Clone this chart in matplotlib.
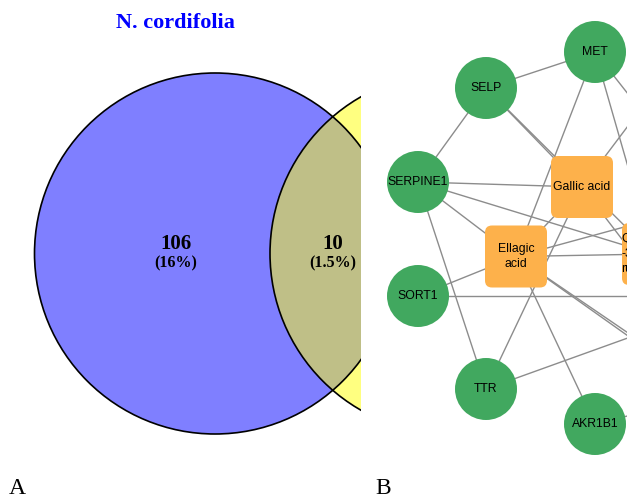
"""Venn diagram (A) and compound-target network (B)."""
import matplotlib
matplotlib.use('Agg')
import matplotlib.pyplot as plt
from matplotlib.patches import Circle, FancyBboxPatch

# ---- data -------------------------------------------------------------
venn_title = 'N. cordifolia'
venn_counts = [106, 10]
venn_pcts = ['16%', '1.5%']

targets = ['MET', 'SELP', 'SERPINE1', 'SORT1', 'TTR', 'AKR1B1']
compounds = ['Gallic acid', 'Ellagic\nacid', 'Quercetin\n-3-O-\nrutinoside']
edges = [
    ('SELP', 'MET'), ('SELP', 'SERPINE1'), ('SELP', 'Gallic acid'),
    ('SELP', 'Quercetin\n-3-O-\nrutinoside'),
    ('SERPINE1', 'Gallic acid'), ('SERPINE1', 'Ellagic\nacid'),
    ('SERPINE1', 'Quercetin\n-3-O-\nrutinoside'), ('SERPINE1', 'TTR'),
    ('MET', 'Ellagic\nacid'), ('MET', 'Quercetin\n-3-O-\nrutinoside'),
    ('MET', 'n1'), ('Gallic acid', 'n2'),
    ('SORT1', 'Ellagic\nacid'), ('SORT1', 'n3'),
    ('Gallic acid', 'TTR'), ('Ellagic\nacid', 'AKR1B1'),
    ('TTR', 'n4'), ('Ellagic\nacid', 'n5'), ('Ellagic\nacid', 'n6'),
    ('Ellagic\nacid', 'Quercetin\n-3-O-\nrutinoside'), ('Ellagic\nacid', 'n7'),
    ('Gallic acid', 'Ellagic\nacid'), ('Gallic acid', 'n8'),
    ('AKR1B1', 'n9'),
]

# ---- layout (pixels, y down) -----------------------------------------
layout = {
    'MET': (595, 52), 'SELP': (486, 88), 'SERPINE1': (418, 182),
    'SORT1': (418, 296), 'TTR': (486, 389), 'AKR1B1': (595, 424),
    'Gallic acid': (582, 187), 'Ellagic\nacid': (516, 256.5),
    'Quercetin\n-3-O-\nrutinoside': (653, 254),
    # nodes of the network outside the visible crop
    'n1': (680, 160), 'n2': (640, 110), 'n3': (780, 296), 'n4': (700, 312),
    'n5': (700, 387), 'n6': (700, 382), 'n7': (760, 190), 'n8': (680, 315),
    'n9': (700, 398),
}

W, H = 627, 497
SPLIT = 361
fig = plt.figure(figsize=(W / 100, H / 100), dpi=100)

# ---- A: Venn ----------------------------------------------------------
ax = fig.add_axes([0, 0, SPLIT / W, 1])
ax.set_xlim(0, SPLIT)
ax.set_ylim(H, 0)
ax.axis('off')

r = 180.5
c1 = (215, 253.5)
c2 = (450.5, 253.5)
ax.add_patch(Circle(c1, r, fc='#7f7fff', ec='none', zorder=1))
ax.add_patch(Circle(c2, r, fc='#ffff80', ec='none', zorder=1))
overlap = Circle(c2, r, fc='#bfbf87', ec='none', zorder=2)
overlap.set_clip_path(Circle(c1, r, transform=ax.transData))
ax.add_patch(overlap)
overlap.set_clip_box(ax.bbox)
for c in (c1, c2):
    ax.add_patch(Circle(c, r, fc='none', ec='black', lw=1.2, zorder=3))

serif = 'Liberation Serif'
ax.text(175.5, 23, venn_title, color='#0000ff', fontsize=16,
        fontweight='bold', family=serif, ha='center', va='center')
for x, n, p in zip([176, 333], venn_counts, venn_pcts):
    ax.text(x, 244, str(n), fontsize=15, fontweight='bold', family=serif,
            ha='center', va='center', zorder=4)
    ax.text(x, 263, f'({p})', fontsize=11.5, fontweight='bold', family=serif,
            ha='center', va='center', zorder=4)
ax.text(9, 494, 'A', fontsize=17, family=serif, ha='left', va='baseline')

# ---- B: network -------------------------------------------------------
bx = fig.add_axes([SPLIT / W, 0, (W - SPLIT) / W, 1])
bx.set_xlim(SPLIT, W)
bx.set_ylim(H, 0)
bx.axis('off')

for a, b in edges:
    (x0, y0), (x1, y1) = layout[a], layout[b]
    bx.plot([x0, x1], [y0, y1], color='#8c8c8c', lw=1.0, zorder=1)

sans = 'Liberation Sans'
for name in targets:
    x, y = layout[name]
    bx.add_patch(Circle((x, y), 31, fc='#41a85f', ec='none', zorder=2))
    bx.text(x, y, name, fontsize=8.8, family=sans, ha='center', va='center',
            zorder=3)

box = 62
for name in compounds:
    x, y = layout[name]
    bx.add_patch(FancyBboxPatch((x - box / 2, y - box / 2), box, box,
                                boxstyle='round,pad=0,rounding_size=7',
                                fc='#fdb14b', ec='none', zorder=2))
    if x + box / 2 <= W:
        bx.text(x, y, name, fontsize=8.8, family=sans, ha='center',
                va='center', linespacing=1.3, zorder=3)
    else:
        bx.text(x - box / 2 - 1, y, name, fontsize=8.8, family=sans,
                ha='left', va='center', linespacing=1.3, zorder=3,
                clip_on=True)

bx.text(SPLIT + 14, 494, 'B', fontsize=17, family=serif, ha='left',
        va='baseline')

fig.savefig('out.png', dpi=100)
